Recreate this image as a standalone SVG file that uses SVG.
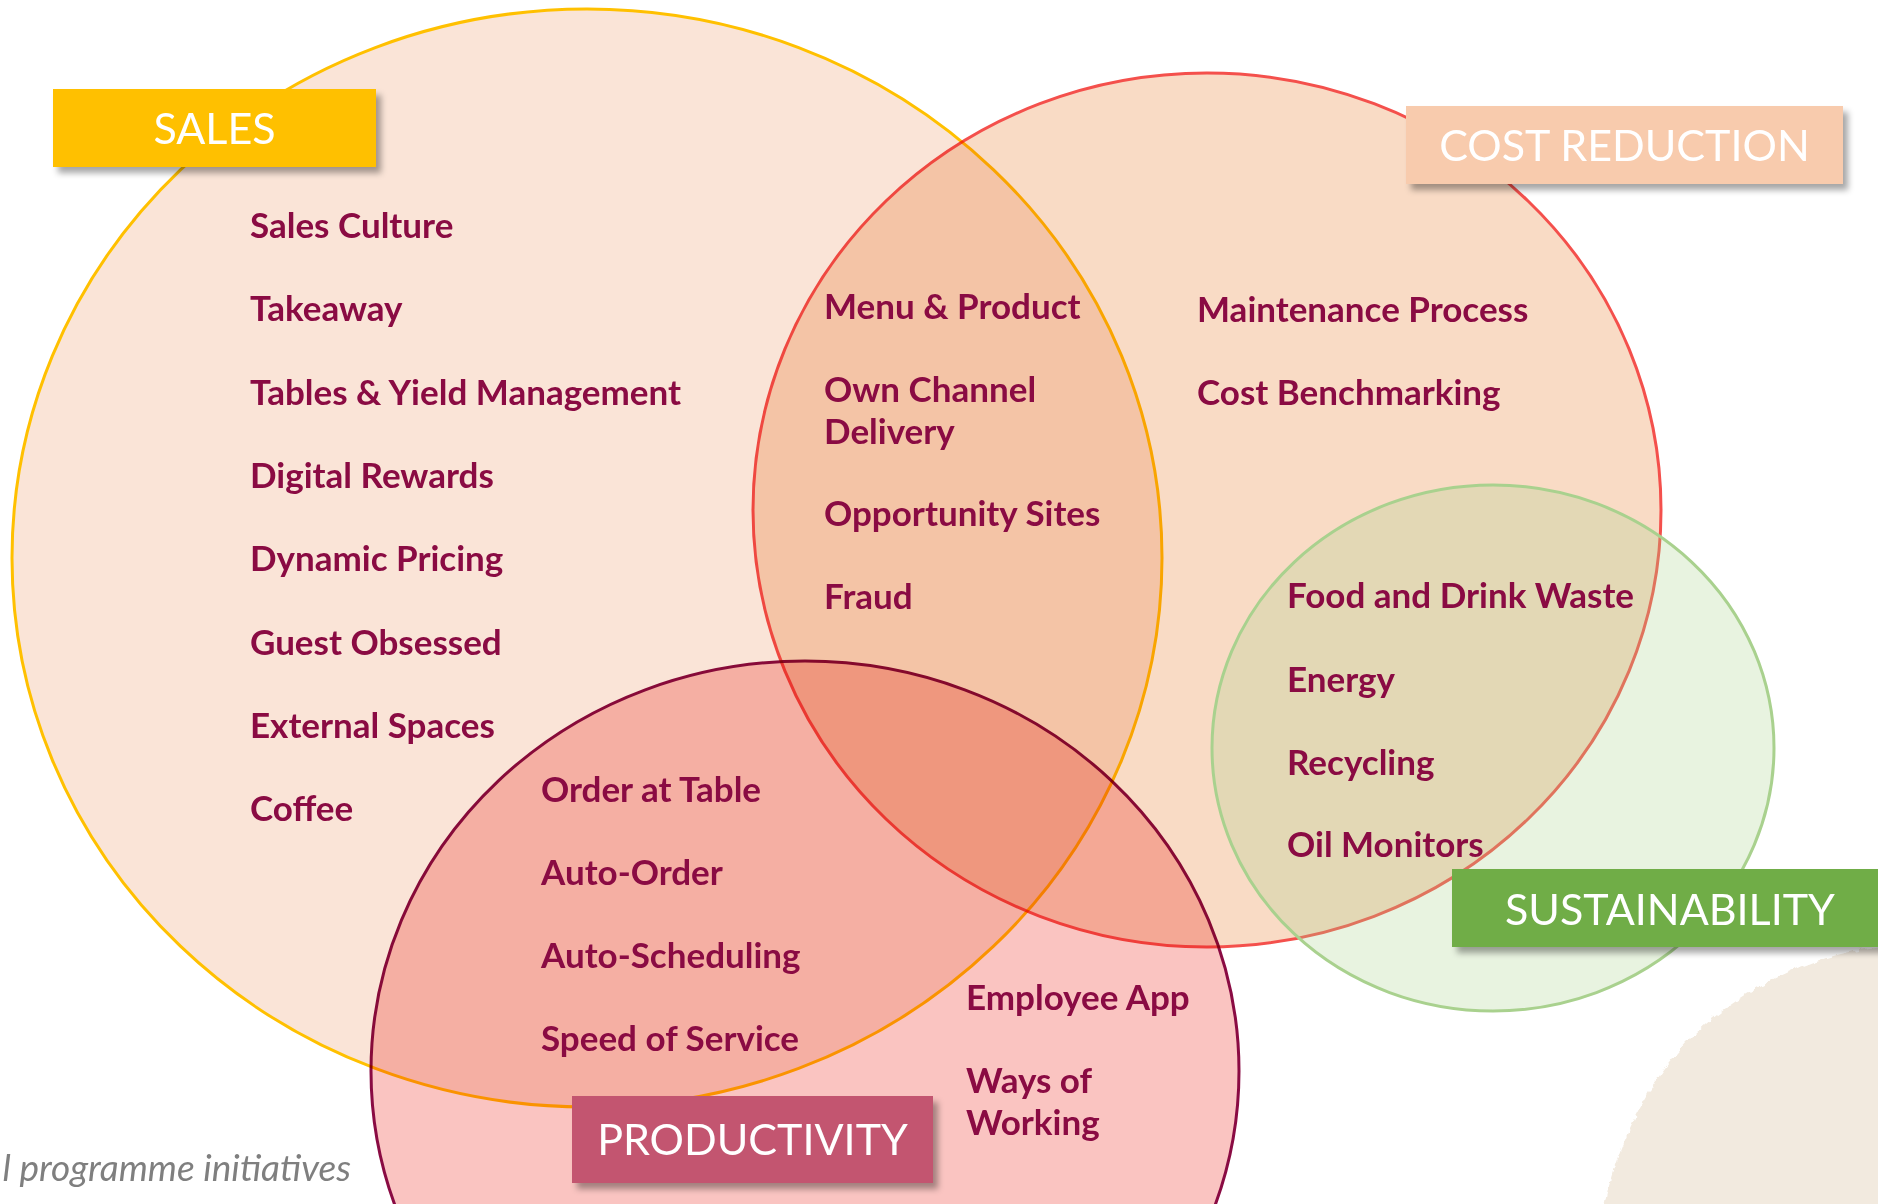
<svg xmlns="http://www.w3.org/2000/svg" width="1878" height="1204" viewBox="0 0 1878 1204">
  <style>
    .set { stroke-width: 3; mix-blend-mode: multiply; }
    .item { font-family: Lato, "Liberation Sans", sans-serif; font-weight: 700; font-size: 35px; fill: #8A0B43; }
    .tag { font-family: Lato, "Liberation Sans", sans-serif; font-weight: 400; font-size: 43px; fill: #FFFFFF; text-anchor: middle; }
    .note { font-family: Lato, "Liberation Sans", sans-serif; font-style: italic; font-size: 37px; fill: #7F7F7F; }
  </style>
  <defs>
    <filter id="shadow" x="-10%" y="-20%" width="130%" height="160%">
      <feDropShadow dx="5" dy="6" stdDeviation="3" flood-color="#000" flood-opacity="0.35"/>
    </filter>
    <filter id="rough" x="-5%" y="-5%" width="110%" height="110%">
      <feTurbulence type="fractalNoise" baseFrequency="0.12" numOctaves="2" seed="3" result="n"/>
      <feDisplacementMap in="SourceGraphic" in2="n" scale="7" xChannelSelector="R" yChannelSelector="G"/>
    </filter>
  </defs>

  <rect width="1878" height="1204" fill="#FFFFFF"/>

  <!-- decorative brush shape, bottom right -->
  <path d="M1882,946 C1790,958 1705,1008 1658,1078 C1632,1118 1612,1162 1604,1208 L1882,1208 Z" fill="#F2EADF" filter="url(#rough)"/>

  <!-- set circles -->
  <g id="sales-set">
    <ellipse class="set" cx="587" cy="558" rx="575" ry="549" fill="#FAE4D7" stroke="#FFC000"/>
  </g>
  <g id="cost-set">
    <ellipse class="set" cx="1207" cy="510" rx="454" ry="437" fill="#F9DBC5" stroke="#F4504C"/>
  </g>
  <g id="productivity-set">
    <ellipse class="set" cx="805" cy="1071" rx="434" ry="410" fill="#FAC4C1" stroke="#8A0B43"/>
  </g>
  <g id="sustainability-set">
    <ellipse cx="1493" cy="748" rx="281" ry="263" fill="#A9D18E" fill-opacity="0.27" stroke="#A9D18E" stroke-width="3"/>
  </g>

  <!-- initiatives -->
  <g id="sales-items">
    <text class="item" x="250" y="238">Sales Culture</text>
    <text class="item" x="250" y="321">Takeaway</text>
    <text class="item" x="250" y="405">Tables &amp; Yield Management</text>
    <text class="item" x="250" y="488">Digital Rewards</text>
    <text class="item" x="250" y="571">Dynamic Pricing</text>
    <text class="item" x="250" y="655">Guest Obsessed</text>
    <text class="item" x="250" y="738">External Spaces</text>
    <text class="item" x="250" y="821">Coffee</text>
  </g>
  <g id="sales-cost-items">
    <text class="item" x="824" y="319">Menu &amp; Product</text>
    <text class="item" x="824" y="402">Own Channel</text>
    <text class="item" x="824" y="444">Delivery</text>
    <text class="item" x="824" y="526">Opportunity Sites</text>
    <text class="item" x="824" y="609">Fraud</text>
  </g>
  <g id="cost-items">
    <text class="item" x="1197" y="322">Maintenance Process</text>
    <text class="item" x="1197" y="405">Cost Benchmarking</text>
  </g>
  <g id="sustainability-items">
    <text class="item" x="1287" y="608">Food and Drink Waste</text>
    <text class="item" x="1287" y="692">Energy</text>
    <text class="item" x="1287" y="775">Recycling</text>
    <text class="item" x="1287" y="857">Oil Monitors</text>
  </g>
  <g id="productivity-items">
    <text class="item" x="541" y="802">Order at Table</text>
    <text class="item" x="541" y="885">Auto-Order</text>
    <text class="item" x="541" y="968">Auto-Scheduling</text>
    <text class="item" x="541" y="1051">Speed of Service</text>
    <text class="item" x="966" y="1010">Employee App</text>
    <text class="item" x="966" y="1093">Ways of</text>
    <text class="item" x="966" y="1135">Working</text>
  </g>

  <!-- set labels -->
  <g id="sales-label">
    <rect x="53" y="89" width="323" height="78" fill="#FFC000" filter="url(#shadow)"/>
    <text class="tag" x="214.5" y="144">SALES</text>
  </g>
  <g id="cost-label">
    <rect x="1406" y="106" width="437" height="78" fill="#F8CBAD" filter="url(#shadow)"/>
    <text class="tag" x="1624.5" y="161">COST REDUCTION</text>
  </g>
  <g id="sustainability-label">
    <rect x="1452" y="869" width="440" height="78" fill="#70AD47" filter="url(#shadow)"/>
    <text class="tag" x="1670" y="925">SUSTAINABILITY</text>
  </g>
  <g id="productivity-label">
    <rect x="572" y="1096" width="361" height="87" fill="#C3546F" filter="url(#shadow)"/>
    <text class="tag" x="752.5" y="1155">PRODUCTIVITY</text>
  </g>

  <text class="note" x="351" y="1181" text-anchor="end">l programme initiatives</text>
</svg>
